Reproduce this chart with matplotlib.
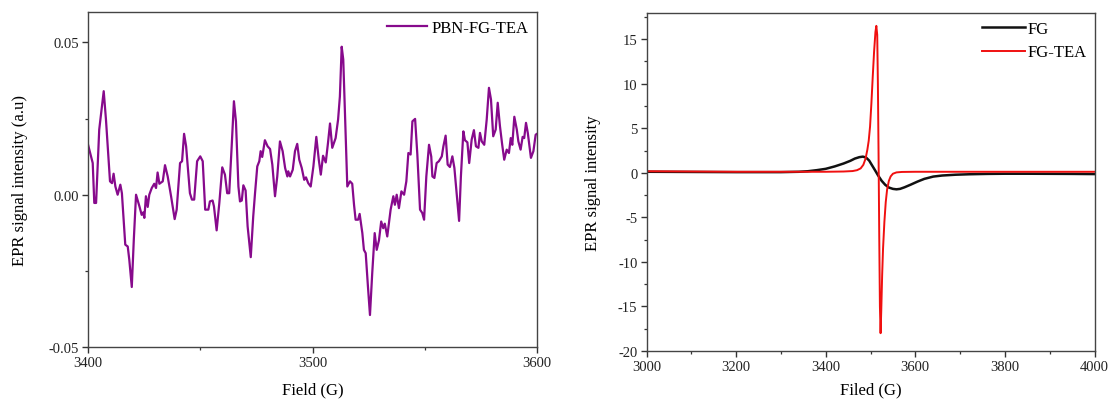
import matplotlib
matplotlib.use("Agg")
import matplotlib.pyplot as plt
from matplotlib.ticker import MultipleLocator, FormatStrFormatter

plt.rcParams['font.family'] = ['Liberation Serif', 'DejaVu Serif']
plt.rcParams['axes.unicode_minus'] = False

# ---- Left panel: PBN-FG-TEA ----
pbn_field = [3400.0, 3402.1, 3402.8, 3403.6, 3405.0, 3407.0, 3408.0, 3409.8, 3410.7, 3411.4,
             3412.2, 3413.2, 3414.4, 3415.1, 3416.6, 3417.7, 3418.4, 3419.5, 3420.4, 3421.4,
             3422.9, 3423.9, 3424.6, 3425.1, 3425.8, 3426.6, 3427.3, 3428.4, 3429.5, 3430.3,
             3431.0, 3431.8, 3433.3, 3434.3, 3435.5, 3437.0, 3438.6, 3439.5, 3441.0, 3441.9,
             3442.8, 3443.7, 3445.4, 3446.3, 3447.3, 3448.6, 3450.0, 3451.1, 3452.2, 3453.6,
             3454.3, 3455.5, 3456.1, 3457.3, 3458.5, 3459.8, 3461.0, 3462.0, 3462.9, 3464.0,
             3465.0, 3465.9, 3467.0, 3467.7, 3468.5, 3469.2, 3470.2, 3471.1, 3472.5, 3473.6,
             3474.4, 3475.4, 3476.3, 3476.9, 3477.6, 3478.8, 3480.0, 3481.1, 3482.1, 3483.3,
             3484.3, 3485.5, 3486.7, 3487.8, 3488.8, 3489.2, 3490.0, 3491.2, 3492.2, 3493.2,
             3494.1, 3495.2, 3496.3, 3497.1, 3498.1, 3499.2, 3500.4, 3501.7, 3502.8, 3503.7,
             3504.7, 3505.9, 3506.9, 3507.8, 3508.8, 3510.3, 3511.4, 3512.2, 3513.0, 3513.7,
             3514.8, 3515.5, 3516.7, 3517.7, 3518.5, 3519.2, 3520.3, 3521.0, 3522.2, 3522.9,
             3523.7, 3524.7, 3525.6, 3526.6, 3527.7, 3528.6, 3529.6, 3530.6, 3531.5, 3532.2,
             3533.3, 3534.8, 3536.0, 3536.7, 3537.5, 3538.5, 3539.6, 3540.8, 3541.8, 3542.7,
             3543.7, 3544.5, 3545.7, 3546.7, 3547.9, 3548.9, 3549.7, 3550.7, 3551.9, 3552.9,
             3553.4, 3554.3, 3555.3, 3556.3, 3557.6, 3558.3, 3559.3, 3560.2, 3561.2, 3562.3,
             3563.2, 3564.2, 3565.3, 3566.1, 3567.2, 3567.9, 3569.0, 3569.8, 3570.9, 3571.9,
             3572.8, 3573.9, 3574.6, 3575.4, 3576.5, 3577.6, 3578.6, 3579.5, 3580.5, 3581.6,
             3582.5, 3583.5, 3584.5, 3585.4, 3586.5, 3587.5, 3588.3, 3589.0, 3589.9, 3591.0,
             3591.7, 3592.7, 3593.6, 3594.3, 3595.1, 3595.9, 3597.3, 3598.4, 3599.4, 3600.0]
pbn_signal = [0.0165, 0.0104, -0.0027, -0.0027, 0.0214, 0.0340, 0.0247, 0.0044, 0.0038, 0.0069,
              0.0027, 0.0000, 0.0033, 0.0005, -0.0164, -0.0170, -0.0214, -0.0303, -0.0148, 0.0000,
              -0.0038, -0.0066, -0.0058, -0.0076, -0.0005, -0.0040, 0.0000, 0.0022, 0.0036, 0.0022,
              0.0073, 0.0036, 0.0044, 0.0097, 0.0060, -0.0005, -0.0080, -0.0049, 0.0104, 0.0110,
              0.0200, 0.0159, 0.0005, -0.0016, -0.0016, 0.0110, 0.0126, 0.0110, -0.0049, -0.0049,
              -0.0022, -0.0019, -0.0038, -0.0117, -0.0027, 0.0090, 0.0066, 0.0005, 0.0005, 0.0159,
              0.0307, 0.0241, 0.0027, -0.0022, -0.0019, 0.0031, 0.0014, -0.0104, -0.0205, -0.0071,
              0.0005, 0.0093, 0.0110, 0.0143, 0.0124, 0.0179, 0.0159, 0.0150, 0.0099, -0.0005,
              0.0060, 0.0175, 0.0143, 0.0088, 0.0060, 0.0077, 0.0060, 0.0082, 0.0143, 0.0167,
              0.0115, 0.0088, 0.0049, 0.0057, 0.0038, 0.0027, 0.0093, 0.0190, 0.0115, 0.0066,
              0.0128, 0.0106, 0.0170, 0.0234, 0.0154, 0.0186, 0.0247, 0.0323, 0.0486, 0.0444,
              0.0192, 0.0027, 0.0044, 0.0036, -0.0033, -0.0082, -0.0082, -0.0063, -0.0126, -0.0181,
              -0.0192, -0.0302, -0.0395, -0.0258, -0.0126, -0.0181, -0.0150, -0.0088, -0.0110, -0.0095,
              -0.0137, -0.0049, -0.0005, -0.0033, 0.0000, -0.0044, 0.0011, 0.0000, 0.0044, 0.0137,
              0.0132, 0.0241, 0.0249, 0.0132, -0.0049, -0.0060, -0.0082, 0.0060, 0.0164, 0.0125,
              0.0060, 0.0055, 0.0104, 0.0110, 0.0126, 0.0159, 0.0194, 0.0099, 0.0091, 0.0126,
              0.0088, 0.0005, -0.0086, 0.0060, 0.0208, 0.0179, 0.0172, 0.0104, 0.0181, 0.0212,
              0.0159, 0.0154, 0.0203, 0.0175, 0.0164, 0.0247, 0.0351, 0.0313, 0.0192, 0.0214,
              0.0302, 0.0225, 0.0164, 0.0115, 0.0148, 0.0137, 0.0186, 0.0164, 0.0256, 0.0214,
              0.0175, 0.0148, 0.0190, 0.0186, 0.0236, 0.0203, 0.0121, 0.0143, 0.0197, 0.0200]

# ---- Right panel: FG and FG-TEA ----
fg_field = [3000, 3100, 3200, 3300, 3340, 3360, 3380, 3400, 3420, 3440, 3455, 3465, 3475, 3483,
            3490, 3497, 3503, 3510, 3517, 3525, 3533, 3541, 3550, 3558, 3566, 3576, 3590, 3605,
            3620, 3640, 3660, 3690, 3720, 3760, 3800, 3850, 3900, 3950, 4000]
fg_signal = [0.12, 0.10, 0.08, 0.08, 0.12, 0.18, 0.30, 0.45, 0.72, 1.05, 1.35, 1.60, 1.76, 1.82,
             1.72, 1.38, 0.88, 0.30, -0.30, -0.90, -1.35, -1.65, -1.80, -1.85, -1.80, -1.62, -1.32, -0.98,
             -0.68, -0.42, -0.30, -0.21, -0.16, -0.12, -0.10, -0.10, -0.11, -0.12, -0.14]

tea_field = [3000, 3100, 3200, 3300, 3400, 3440, 3460, 3470, 3478, 3484, 3489, 3493, 3496, 3499,
             3502, 3505, 3508, 3511, 3513, 3515, 3516.5, 3518, 3519.5, 3521, 3522.5, 3524, 3526,
             3528, 3531, 3534, 3537, 3541, 3545, 3550, 3558, 3570, 3600, 3700, 3800, 3900, 4000]
tea_signal = [0.18, 0.15, 0.12, 0.12, 0.12, 0.15, 0.20, 0.30, 0.50, 0.90, 1.60, 2.60, 3.60, 5.20,
              7.80, 10.8, 13.6, 15.8, 16.5, 15.5, 10.0, 2.0, -7.0, -15.0, -18.0, -15.5, -11.5,
              -8.5, -5.5, -3.3, -1.9, -0.9, -0.4, -0.1, 0.05, 0.10, 0.12, 0.12, 0.12, 0.12, 0.12]

W, H = 1110, 402
fig = plt.figure(figsize=(W / 100, H / 100), dpi=100)

ax1 = fig.add_axes([88 / W, 1 - 348 / H, (537 - 88) / W, (348 - 13) / H])
ax2 = fig.add_axes([646.5 / W, 1 - 352 / H, (1094.5 - 646.5) / W, (352 - 13.5) / H])

ax1.plot(pbn_field, pbn_signal, color='#870a8c', lw=1.6, label='PBN-FG-TEA')
ax1.set_xlim(3400, 3600)
ax1.set_ylim(-0.05, 0.06)
ax1.xaxis.set_major_locator(MultipleLocator(100))
ax1.xaxis.set_minor_locator(MultipleLocator(50))
ax1.yaxis.set_major_locator(MultipleLocator(0.05))
ax1.yaxis.set_minor_locator(MultipleLocator(0.025))
ax1.yaxis.set_major_formatter(FormatStrFormatter('%.2f'))
ax1.set_xlabel('Field (G)', fontsize=12, labelpad=9)
ax1.set_ylabel('EPR signal intensity (a.u)', fontsize=12, labelpad=15)
ax1.legend(loc='upper right', frameon=False, fontsize=12, handlelength=2.4,
           borderaxespad=0.1, handletextpad=0.3)

ax2.plot(fg_field, fg_signal, color='#111111', lw=1.8, label='FG')
ax2.plot(tea_field, tea_signal, color='#f01010', lw=1.4, label='FG-TEA')
ax2.set_xlim(3000, 4000)
ax2.set_ylim(-20, 18)
ax2.xaxis.set_major_locator(MultipleLocator(200))
ax2.xaxis.set_minor_locator(MultipleLocator(100))
ax2.yaxis.set_major_locator(MultipleLocator(5))
ax2.yaxis.set_minor_locator(MultipleLocator(2.5))
ax2.set_xlabel('Filed (G)', fontsize=12, labelpad=6)
ax2.set_ylabel('EPR signal intensity', fontsize=12, labelpad=12)
ax2.legend(loc='upper right', frameon=False, fontsize=12, handlelength=2.6,
           borderaxespad=0.1, handletextpad=0.1, labelspacing=0.45)

for ax in (ax1, ax2):
    for s in ax.spines.values():
        s.set_color('#444444')
        s.set_linewidth(1.0)
    ax.tick_params(which='major', direction='out', length=4.5, width=1.0,
                   colors='#333333', labelsize=10.5, pad=2)
    ax.tick_params(which='minor', direction='out', length=2.5, width=0.9, colors='#333333')
    ax.tick_params(labelcolor='#222222')

fig.savefig('out.png', dpi=100)
